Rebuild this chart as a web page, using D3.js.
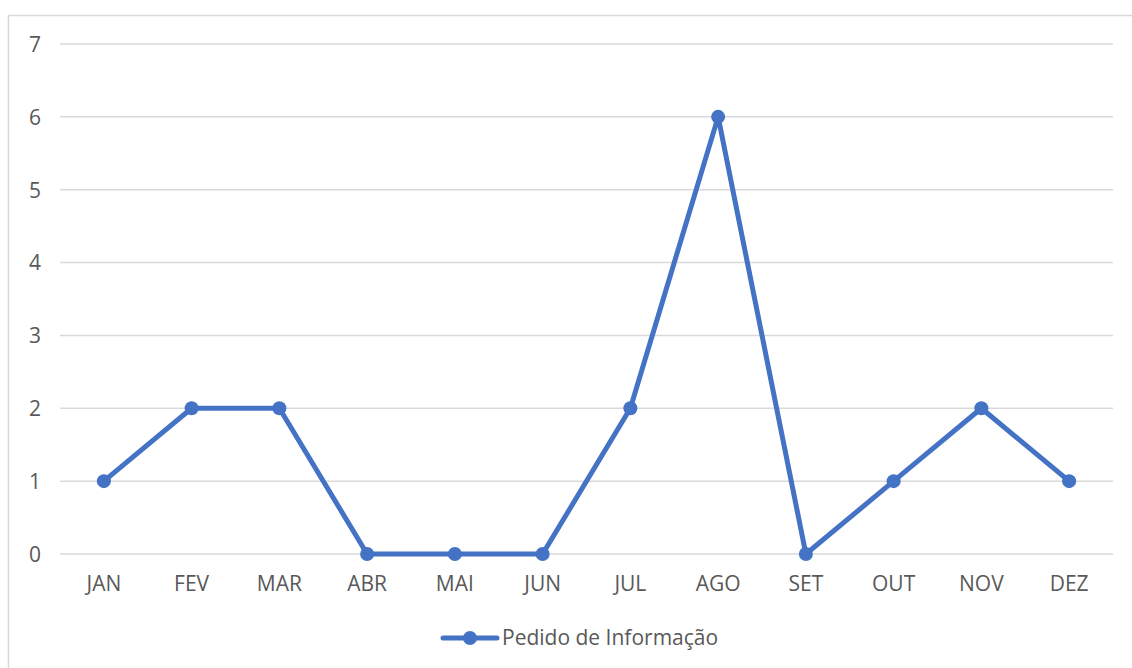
<!DOCTYPE html>
<html>
<head>
<meta charset="utf-8">
<script src="https://cdn.jsdelivr.net/npm/d3@7"></script>
<style>
  body { margin: 0; background: #fff; }
  text { font-family: "Open Sans", "Noto Sans", sans-serif; fill: #595959; }
</style>
</head>
<body>
<div id="chart-area"></div>
<script>
// data
let months = ["JAN", "FEV", "MAR", "ABR", "MAI", "JUN", "JUL", "AGO", "SET", "OUT", "NOV", "DEZ"];
let values = [1, 2, 2, 0, 0, 0, 2, 6, 0, 1, 2, 1];
let yTicks = [0, 1, 2, 3, 4, 5, 6, 7];
let seriesName = "Pedido de Informação";

let W = 1132, H = 668;
let margin = {top: 44, right: 19, bottom: 114, left: 60};
let width = W - margin.left - margin.right;
let height = H - margin.top - margin.bottom;
let fontSize = "21px";

let svg = d3.select("#chart-area").append("svg")
	.attr("width", W)
	.attr("height", H);

// outer chart border
svg.append("rect")
	.attr("x", 8.5).attr("y", 15.5)
	.attr("width", W).attr("height", H)
	.attr("fill", "none")
	.attr("stroke", "#d9d9d9")
	.attr("stroke-width", 1.5);

let g = svg.append("g")
	.attr("transform", "translate(" + margin.left + "," + margin.top + ")");

let xScale = d3.scaleBand()
	.domain(months)
	.range([0, width]);

let yScale = d3.scaleLinear()
	.domain([0, 7])
	.range([height, 0]);

// gridlines
g.selectAll(".grid")
	.data(yTicks)
	.enter()
	.append("line")
	.attr("class", "grid")
	.attr("x1", 0).attr("x2", width)
	.attr("y1", d => yScale(d)).attr("y2", d => yScale(d))
	.attr("stroke", "#d9d9d9")
	.attr("stroke-width", 1.5);

// y axis labels
let yAxis = d3.axisLeft(yScale).tickValues(yTicks).tickFormat(d3.format("d")).tickSize(0).tickPadding(19);
let yAxisGroup = g.append("g").call(yAxis);
yAxisGroup.select(".domain").remove();
yAxisGroup.selectAll("text").style("font-size", fontSize).attr("fill", "#595959").attr("dy", "0.35em");

// x axis labels
let xAxis = d3.axisBottom(xScale).tickSize(0).tickPadding(22);
let xAxisGroup = g.append("g")
	.attr("transform", "translate(0," + height + ")")
	.call(xAxis);
xAxisGroup.select(".domain").remove();
xAxisGroup.selectAll("text").style("font-size", fontSize).attr("fill", "#595959");

let xPos = d => xScale(d) + xScale.bandwidth() / 2;

let line = d3.line()
	.x((d, i) => xPos(months[i]))
	.y(d => yScale(d));

g.append("path")
	.datum(values)
	.attr("d", line)
	.attr("fill", "none")
	.attr("stroke", "#4472C4")
	.attr("stroke-width", 5)
	.attr("stroke-linejoin", "round");

g.selectAll("circle")
	.data(values)
	.enter()
	.append("circle")
	.attr("cx", (d, i) => xPos(months[i]))
	.attr("cy", d => yScale(d))
	.attr("r", 7)
	.attr("fill", "#4472C4");

// legend
let legend = svg.append("g").attr("transform", "translate(443,638)");
legend.append("line")
	.attr("x1", 0).attr("x2", 54)
	.attr("y1", 0).attr("y2", 0)
	.attr("stroke", "#4472C4")
	.attr("stroke-width", 5)
	.attr("stroke-linecap", "round");
legend.append("circle")
	.attr("cx", 27).attr("cy", 0).attr("r", 7)
	.attr("fill", "#4472C4");
legend.append("text")
	.attr("x", 59).attr("y", 0)
	.attr("dy", "0.35em")
	.style("font-size", fontSize)
	.text(seriesName);
</script>
</body>
</html>
